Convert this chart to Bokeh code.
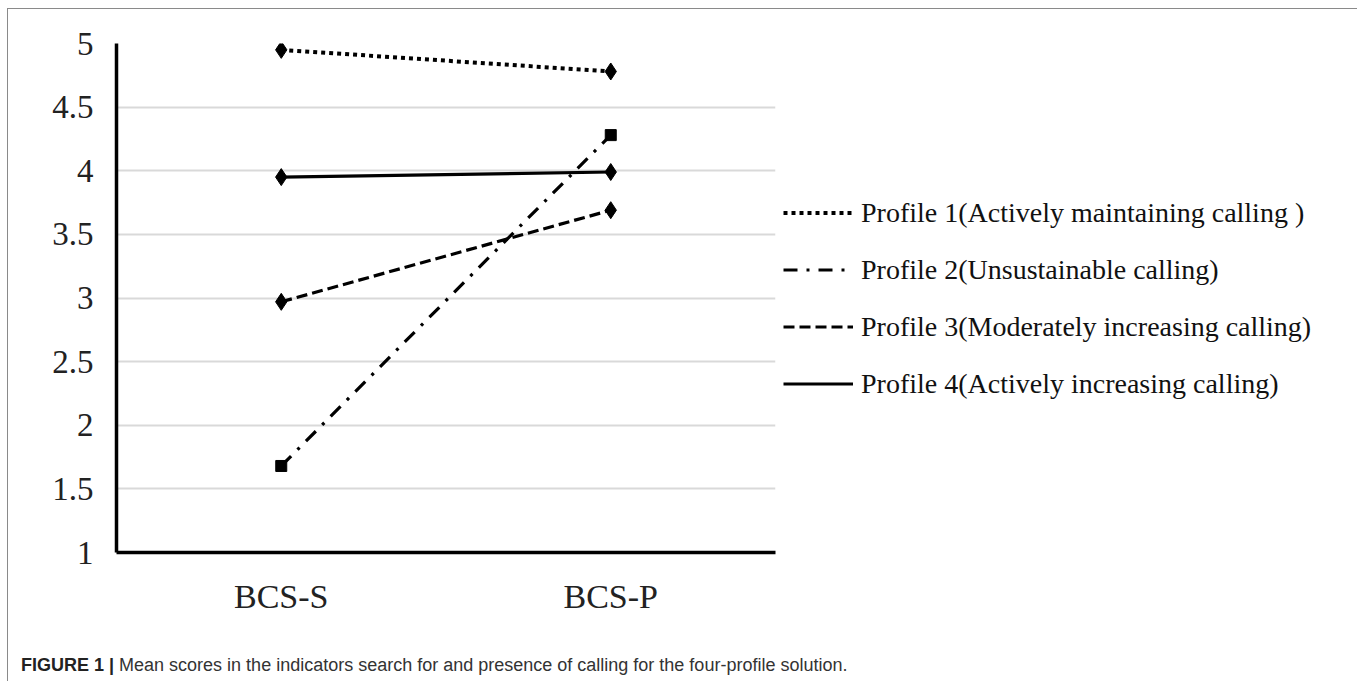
from bokeh.plotting import figure
from bokeh.models import Legend, LegendItem, FixedTicker, NumeralTickFormatter, Div
from bokeh.layouts import column
from bokeh.embed import file_html
from bokeh.resources import INLINE

# ---- data ----
indicators = ["BCS-S", "BCS-P"]
profile_names = [
    "Profile 1(Actively maintaining calling )",
    "Profile 2(Unsustainable calling)",
    "Profile 3(Moderately increasing calling)",
    "Profile 4(Actively increasing calling)",
]
profile1 = [4.95, 4.78]
profile2 = [1.68, 4.28]
profile3 = [2.97, 3.69]
profile4 = [3.95, 3.99]
y_ticks = [1, 1.5, 2, 2.5, 3, 3.5, 4, 4.5, 5]
caption_bold = "FIGURE 1 |"
caption_text = "Mean scores in the indicators search for and presence of calling for the four-profile solution."

series = [profile1, profile2, profile3, profile4]
dashes = ["4 4", "14 9 3 9", "11 5", "solid"]
widths = [4, 3.2, 3.2, 3.2]
markers = ["diamond", "square", "diamond", "diamond"]
msizes = [17, 11, 17, 17]

SERIF = "Liberation Serif"
SANS = "Liberation Sans"

p = figure(frame_width=659, frame_height=509, x_range=indicators, y_range=(1, 5),
           output_backend="svg", toolbar_location=None,
           min_border_left=108, min_border_top=34, min_border_right=0,
           min_border_bottom=75)
p.outline_line_color = None
p.background_fill_color = "white"
p.border_fill_color = "white"

p.xgrid.grid_line_color = None
p.ygrid.grid_line_color = "#d9d9d9"
p.ygrid.grid_line_width = 2
p.yaxis.ticker = FixedTicker(ticks=y_ticks)
p.yaxis.formatter = NumeralTickFormatter(format="0.[0]")

for ax in (p.xaxis[0], p.yaxis[0]):
    ax.axis_line_width = 3.5
    ax.axis_line_color = "black"
    ax.major_tick_line_color = None
    ax.minor_tick_line_color = None
    ax.major_label_text_font = SERIF
    ax.major_label_text_color = "#222222"
p.yaxis.major_label_text_font_size = "33px"
p.yaxis.major_label_standoff = 17
p.xaxis.major_label_text_font_size = "34px"
p.xaxis.major_label_standoff = 19

items = []
for name, vals, dash, lw, mk, ms in zip(profile_names, series, dashes, widths, markers, msizes):
    ln = p.line(indicators, vals, line_color="black", line_width=lw, line_dash=dash)
    sc = p.scatter(indicators, vals, marker=mk, size=ms, fill_color="black", line_color="black")
    items.append(LegendItem(label=name, renderers=[ln]))

legend = Legend(items=items, location="left", margin=8, padding=8,
                glyph_width=70, glyph_height=32, label_height=32, spacing=25,
                label_standoff=8, label_text_font=SERIF, label_text_font_size="28px",
                label_text_color="#111111", border_line_color=None,
                background_fill_alpha=0)
p.add_layout(legend, "right")

cap_html = (f'<div style="font-family:\'{SANS}\';font-size:18px;color:#333;'
            f'padding-top:21px;padding-left:8px;white-space:nowrap">'
            f'<span style="font-weight:bold;color:#222">{caption_bold}</span> {caption_text}</div>')
cap = Div(text=cap_html, width=1345, height=44)

layout = column(p, cap, styles={"border": "1px solid #8a8a8a", "border-bottom": "none",
                                "margin-left": "7px", "margin-top": "8px"})

open("out.html", "w").write(file_html(layout, INLINE))
